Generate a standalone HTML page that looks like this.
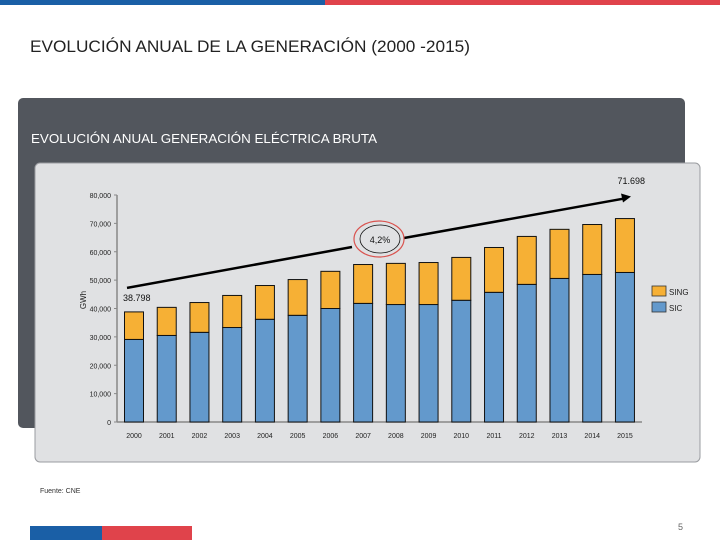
<!DOCTYPE html>
<html><head><meta charset="utf-8"><style>
html,body{margin:0;padding:0;background:#fff;}
body{width:720px;height:540px;overflow:hidden;position:relative;font-family:"Liberation Sans",sans-serif;}
</style></head><body>
<svg id="s" width="720" height="540" viewBox="0 0 720 540" xmlns="http://www.w3.org/2000/svg">
<rect x="0" y="0" width="325" height="5" fill="#1a5fa6"/>
<rect x="325" y="0" width="395" height="5" fill="#e0434b"/>
<text x="30" y="52" font-size="17" fill="#222" textLength="440" lengthAdjust="spacingAndGlyphs">EVOLUCIÓN  ANUAL DE LA GENERACIÓN (2000 -2015)</text>
<rect x="18" y="98" width="667" height="330" rx="5" fill="#52565d"/>
<text x="31" y="143" font-size="13" fill="#fff" textLength="346" lengthAdjust="spacingAndGlyphs">EVOLUCIÓN ANUAL GENERACIÓN ELÉCTRICA BRUTA</text>
<rect x="35" y="163" width="665" height="299" rx="5" fill="#e0e1e3" stroke="#9a9ca0" stroke-width="1"/>
<g id="chart"></g>
<text x="40" y="493" font-size="7" fill="#333">Fuente: CNE</text>
<rect x="30" y="526" width="72" height="14" fill="#1a5fa6"/>
<rect x="102" y="526" width="90" height="14" fill="#e0434b"/>
<text x="678" y="530" font-size="9" fill="#666">5</text>
</svg>
<script>
const years=["2000","2001","2002","2003","2004","2005","2006","2007","2008","2009","2010","2011","2012","2013","2014","2015"];
const sic=[29100,30500,31600,33300,36200,37600,40000,41800,41400,41400,42900,45700,48500,50600,52000,52700];
const sing=[9698,9900,10500,11300,11900,12600,13100,13700,14500,14800,15100,15800,16900,17300,17600,18998];
const yTicks=[0,10000,20000,30000,40000,50000,60000,70000,80000];
const yTickLabels=["0","10,000","20,000","30,000","40,000","50,000","60,000","70,000","80,000"];
const startLabel="38.798", endLabel="71.698", growthLabel="4,2%";

const NS="http://www.w3.org/2000/svg";
const g=document.getElementById('chart');
const y0=422, pxPer=227/80000;
const yS=v=>y0-v*pxPer;
const xS=i=>134+i*32.73;
const bw=19;
function el(t,a,p){const e=document.createElementNS(NS,t);for(const k in a)e.setAttribute(k,a[k]);(p||g).appendChild(e);return e;}

// axes
let a=el('line',{x1:117,y1:yS(80000),x2:117,y2:y0,stroke:'#888','stroke-width':1.5});


a=el('line',{x1:117,y1:y0,x2:642,y2:y0,stroke:'#888','stroke-width':1.5});


yTicks.forEach((v,i)=>{
  const t=el('text',{x:111,y:yS(v)+3,'font-size':7,'text-anchor':'end',fill:'#222'});
  t.textContent=yTickLabels[i];
  
  
  el('line',{x1:114,y1:yS(v),x2:117,y2:yS(v),stroke:'#888'});
});
const yt=el('text',{x:0,y:0,'font-size':8,'text-anchor':'middle',fill:'#222',transform:'translate(86,300) rotate(-90)'});
yt.textContent='GWh';



years.forEach((yr,i)=>{
  const x=xS(i)-bw/2;
  const r1=el('rect',{x:x,y:yS(sic[i]),width:bw,height:y0-yS(sic[i]),fill:'#6399cc',stroke:'#111','stroke-width':1});
  
  
  const tot=sic[i]+sing[i];
  const r2=el('rect',{x:x,y:yS(tot),width:bw,height:yS(sic[i])-yS(tot),fill:'#f6b035',stroke:'#111','stroke-width':1});
  
  
  const t=el('text',{x:xS(i),y:438,'font-size':7,'text-anchor':'middle',fill:'#222'});
  t.textContent=yr;
  
  
});

// trend arrow
const tot0=sic[0]+sing[0], totN=sic[15]+sing[15];
let l=el('line',{x1:127,y1:yS(tot0)-24,x2:352,y2:247,stroke:'#000','stroke-width':2.5});


l=el('line',{x1:404,y1:238,x2:624,y2:yS(totN)-20,stroke:'#000','stroke-width':2.5});


const ah=el('polygon',{points:`631,${yS(totN)-22} 621,${yS(totN)-25} 623,${yS(totN)-16}`,fill:'#000'});


const e1=el('ellipse',{cx:379,cy:239,rx:25,ry:18,fill:'none',stroke:'#d9534f','stroke-width':1.2});


el('ellipse',{cx:380,cy:239,rx:20,ry:14,fill:'none',stroke:'#111','stroke-width':0.8});
let t=el('text',{x:380,y:243,'font-size':9,'text-anchor':'middle',fill:'#111'});
t.textContent=growthLabel;


t=el('text',{x:123,y:301,'font-size':9,fill:'#111'});
t.textContent=startLabel;


t=el('text',{x:645,y:184,'font-size':9,'text-anchor':'end',fill:'#111'});
t.textContent=endLabel;



// legend
[["SING","#f6b035",286],["SIC","#6399cc",302]].forEach(d=>{
  const r=el('rect',{x:652,y:d[2],width:14,height:10,fill:d[1],stroke:'#333','stroke-width':0.8});
  
  
  const tx=el('text',{x:669,y:d[2]+9,'font-size':8,fill:'#222'});
  tx.textContent=d[0];
  
  
});
</script>
</body></html>
